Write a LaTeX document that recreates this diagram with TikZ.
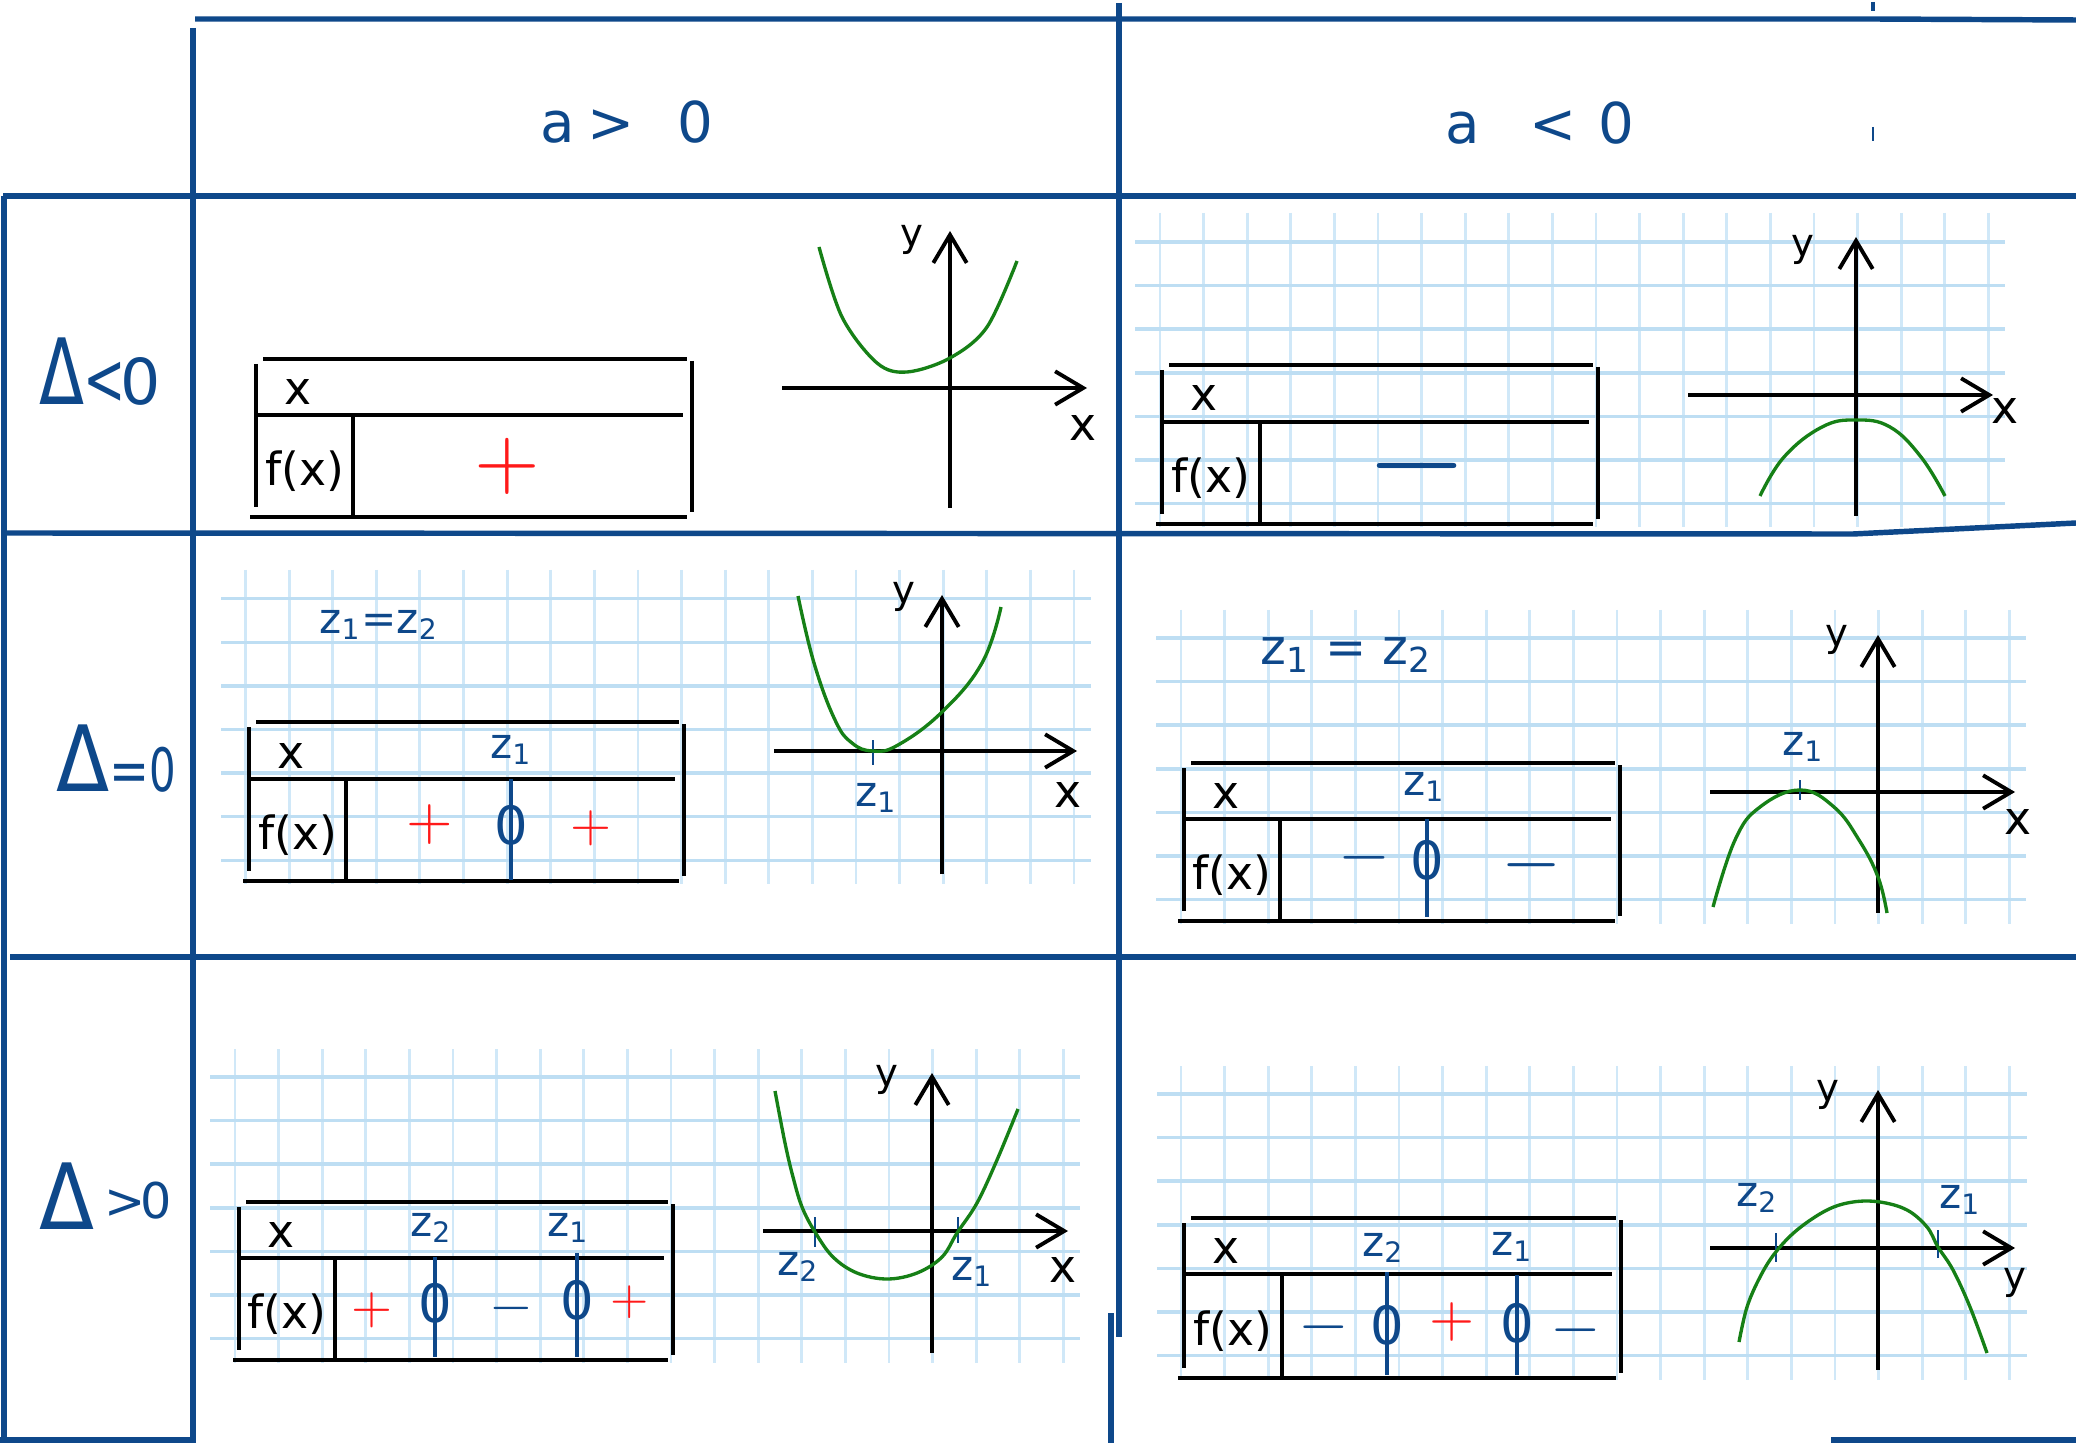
\documentclass[tikz,border=0pt]{standalone}
\usepackage{graphicx}
\usepackage[no-math]{fontspec}
\setmainfont{DejaVu Sans}
\usetikzlibrary{arrows.meta}
\definecolor{frame}{RGB}{14,72,138}
\definecolor{ink}{RGB}{14,72,138}
\definecolor{gridh}{RGB}{190,222,243}
\definecolor{gridv}{RGB}{208,232,248}
\definecolor{curvec}{RGB}{22,128,22}
\definecolor{signred}{RGB}{255,25,25}
\newcommand\cellgrid[4]{%
  \foreach \k in {0,...,19} \draw[gridv] ({#3+43.6*\k},#2) -- ({#3+43.6*\k},{#2+314});
  \foreach \k in {0,...,6} \draw[gridh] (#1,{#4+43.6*\k}) -- ({#1+870},{#4+43.6*\k});
}
\newcommand\signtable[7]{%
  \draw[tabh] ({#1+7},#2) -- ({#6-5},#2);
  \draw[tabh] (#1,#3) -- ({#6-9},#3);
  \draw[tabh] ({#1-6},#4) -- ({#6-5},#4);
  \draw[tabv] (#1,{#2+5}) -- (#1,{#4-10});
  \draw[tabv] (#5,#3) -- (#5,#4);
  \draw[tabv] (#6,{#2+2}) -- (#6,{#4-5});
  \node[txt] (#7x) at ({#1+42},{(#2+#3)/2+5}) {x};
  \node[txt] (#7f) at ({(#1+#5)/2},{(#3+#4)/2+5}) {f(x)};
}
\newcommand\sgn[2]{\scalebox{#1}{$#2$}}
\newcommand\fs[1]{\fontsize{#1}{#1}\selectfont}
\begin{document}
\begin{tikzpicture}[x=0.01cm,y=-0.01cm,
  frameline/.style={draw=frame, line width=1.55pt},
  gridv/.style={draw=gridv, line width=0.8pt},
  gridh/.style={draw=gridh, line width=1pt},
  tabh/.style={draw=black, line width=1.4pt},
  tabv/.style={draw=black, line width=1.1pt},
  axis/.style={draw=black, line width=1.1pt},
  axisarrow/.style={axis, -{Straight Barb[length=8pt,width=9.5pt,line width=1.1pt]}},
  rootline/.style={draw=ink, line width=0.9pt},
  tickline/.style={draw=ink, line width=0.8pt},
  curve/.style={draw=curvec, line width=0.95pt},
  txt/.style={inner sep=0pt, font=\fs{13}},
  ylab/.style={inner sep=0pt, font=\fs{11}},
  zlab/.style={inner sep=0pt, text=ink, font=\fs{12}},
  zero/.style={inner sep=0pt, text=ink, font=\fs{15}},
  plus/.style={inner sep=0pt, text=signred},
  minus/.style={inner sep=0pt, text=ink},
  big/.style={inner sep=0pt, text=ink, anchor=base west}
]
\useasboundingbox (0,0) rectangle (2076,1443);
\fill[white] (0,0) rectangle (2076,1443);

% grids
\cellgrid{1135}{213}{1160}{242}
\cellgrid{221}{570}{245.5}{598.7}
\cellgrid{1156}{610}{1181}{638}
\cellgrid{210}{1049}{235}{1077}
\cellgrid{1157}{1066}{1181}{1094}

% frame
\draw[frameline] (195,19) -- (1873,19) -- (2076,20);
\draw[frameline] (193,28) -- (193,1443);
\draw[frameline] (4,196) -- (4,1443);
\draw[frameline] (1119,3) -- (1119,1337);
\draw[frameline] (1111,1313) -- (1111,1443);
\draw[frameline] (3,196) -- (2076,196);
\draw[frameline] (3,533) -- (1853,534) -- (2076,523);
\draw[frameline] (10,957) -- (2076,957);
\draw[frameline] (0,1440) -- (193,1440);
\draw[frameline] (1831,1440) -- (2076,1440);
\draw[frameline, line width=1pt] (1873,2) -- (1873,11);
\draw[frameline, line width=0.8pt] (1873,127) -- (1873,141);

% headers
\node[big] (hpos) at (540,143) {\fs{16}a\hspace{0.21em}>\hspace{0.77em}0};
\node[big] (hneg) at (1445,144) {\fs{16}a\hspace{0.88em}<\hspace{0.39em}0};
\node[big] (rneg) at (39,405) {{\fs{26}\scalebox{0.72}[1]{Δ}}{\fs{18}\hspace{-0.02em}\scalebox{0.8}[1.15]{<}\hspace{-0.08em}0}};
\node[big] (rzero) at (56,791) {{\fs{26}\scalebox{0.85}[1]{Δ}}{\fs{17}\scalebox{0.8}[1]{=}\scalebox{0.7}[1]{0}}};
\node[big] (rpos) at (39,1229) {{\fs{26}\scalebox{0.88}[1]{Δ}}\raisebox{3pt}{\fs{14}\hspace{0.2em}>\hspace{-0.1em}0}};

% ---------- cell a>0, Delta<0
\signtable{256}{359}{415}{517}{353}{692}{ta}
\node[plus] (ta1) at (507,466) {\sgn{2.4}{+}};
\draw[axisarrow] (782,388) -- (1087,388);
\draw[axisarrow] (950,508) -- (950,231);
\node[ylab] (gay) at (912,240) {y};
\node[txt] (gax) at (1083,428) {x};
\draw[curve] plot[smooth, tension=0.55] coordinates {(819,247) (842,317) (877,363) (907,372) (950,358) (987,327) (1017,261)};

% ---------- cell a<0, Delta<0
\signtable{1162}{365}{422}{524}{1260}{1598}{tb}
\node[minus] (tb1) at (1417,466) {\sgn{3.7}{-}};
\draw[axisarrow] (1688,395) -- (1993,395);
\draw[axisarrow] (1856,516) -- (1856,237);
\node[ylab] (gby) at (1803,250) {y};
\node[txt] (gbx) at (2005,411) {x};
\draw[curve] plot[smooth, tension=0.7] coordinates {(1760,496) (1784,457) (1822,427) (1856,420) (1890,427) (1921,457) (1945,496)};

% ---------- cell a>0, Delta=0
\node[zlab] (eqa) at (379,625) {z\textsubscript{1}=z\textsubscript{2}};
\signtable{249}{722}{779}{881}{346}{684}{tc}
\node[zlab] (tcz) at (511,750) {z\textsubscript{1}};
\draw[rootline] (511,779) -- (511,880);
\node[zero] (tc0) at (511,825) {0};
\node[plus] (tc1) at (430,825) {\sgn{1.7}{+}};
\node[plus] (tc2) at (591,828) {\sgn{1.5}{+}};
\draw[axisarrow] (774,751) -- (1077,751);
\draw[axisarrow] (942,874) -- (942,595);
\node[ylab] (gcy) at (904,597) {y};
\node[txt] (gcx) at (1068,795) {x};
\draw[tickline] (873,740) -- (873,765);
\node[zlab] (gcz) at (876,798) {z\textsubscript{1}};
\draw[curve] plot[smooth, tension=0.7] coordinates {(798,596) (814,663) (835,720) (852,743) (873,751) (898,745) (942,712) (982,663) (1001,607)};

% ---------- cell a<0, Delta=0
\node[zlab, font=\fs{14}] (eqb) at (1346,655) {z\textsubscript{1} = z\textsubscript{2}};
\signtable{1184}{763}{819}{921}{1280}{1620}{td}
\node[zlab] (tdz) at (1424,787) {z\textsubscript{1}};
\draw[rootline] (1427,819) -- (1427,917);
\node[zero] (td0) at (1427,860) {0};
\node[minus] (td1) at (1364,858) {\sgn{1.9}{-}};
\node[minus] (td2) at (1532,865) {\sgn{2.2}{-}};
\draw[axisarrow] (1710,792) -- (2015,792);
\draw[axisarrow] (1878,913) -- (1878,635);
\node[ylab] (gdy) at (1837,640) {y};
\node[txt] (gdx) at (2018,822) {x};
\draw[tickline] (1800,780) -- (1800,800);
\node[zlab] (gdz) at (1803,747) {z\textsubscript{1}};
\draw[curve] plot[smooth, tension=0.7] coordinates {(1713,907) (1735,840) (1760,807) (1800,790) (1834,807) (1859,840) (1878,877) (1887,913)};

% ---------- cell a>0, Delta>0
\signtable{239}{1202}{1258}{1360}{335}{673}{te}
\node[zlab] (tez2) at (431,1228) {z\textsubscript{2}};
\node[zlab] (tez1) at (568,1228) {z\textsubscript{1}};
\draw[rootline] (435,1257) -- (435,1357);
\draw[rootline] (577,1253) -- (577,1357);
\node[zero] (te0a) at (435,1303) {0};
\node[zero] (te0b) at (577,1300) {0};
\node[plus] (te1) at (372,1310) {\sgn{1.5}{+}};
\node[minus] (te2) at (511,1308) {\sgn{1.6}{-}};
\node[plus] (te3) at (630,1302) {\sgn{1.4}{+}};
\draw[axisarrow] (763,1231) -- (1068,1231);
\draw[axisarrow] (932,1353) -- (932,1073);
\node[ylab] (gey) at (887,1080) {y};
\node[txt] (gex) at (1063,1270) {x};
\draw[tickline] (815,1217) -- (815,1247);
\draw[tickline] (958,1217) -- (958,1243);
\node[zlab] (gez2) at (798,1267) {z\textsubscript{2}};
\node[zlab] (gez1) at (972,1272) {z\textsubscript{1}};
\draw[curve] plot[smooth, tension=0.6] coordinates {(775,1091) (785,1143) (793,1177) (802,1207) (815,1232) (833,1257) (857,1273) (887,1279) (917,1273) (942,1257) (957,1233) (977,1203) (997,1160) (1018,1109)};

% ---------- cell a<0, Delta>0
\signtable{1184}{1218}{1274}{1378}{1282}{1621}{tf}
\node[zlab] (tfz2) at (1383,1248) {z\textsubscript{2}};
\node[zlab] (tfz1) at (1512,1247) {z\textsubscript{1}};
\draw[rootline] (1387,1272) -- (1387,1375);
\draw[rootline] (1517,1275) -- (1517,1375);
\node[zero] (tf0a) at (1387,1325) {0};
\node[zero] (tf0b) at (1517,1323) {0};
\node[minus] (tf1) at (1324,1327) {\sgn{1.85}{-}};
\node[plus] (tf2) at (1452,1322) {\sgn{1.65}{+}};
\node[minus] (tf3) at (1576,1330) {\sgn{1.85}{-}};
\draw[axisarrow] (1710,1248) -- (2015,1248);
\draw[axisarrow] (1878,1370) -- (1878,1090);
\node[ylab] (gfy) at (1828,1095) {y};
\node[ylab] (gfx) at (2015,1283) {y};
\draw[tickline] (1776,1233) -- (1776,1262);
\draw[tickline] (1938,1230) -- (1938,1258);
\node[zlab] (gfz2) at (1757,1198) {z\textsubscript{2}};
\node[zlab] (gfz1) at (1960,1200) {z\textsubscript{1}};
\draw[curve] plot[smooth, tension=0.6] coordinates {(1739,1342) (1747,1307) (1760,1277) (1775,1253) (1797,1230) (1827,1210) (1853,1202) (1880,1202) (1907,1210) (1927,1227) (1938,1247) (1953,1270) (1970,1307) (1987,1353)};
\end{tikzpicture}
\end{document}
